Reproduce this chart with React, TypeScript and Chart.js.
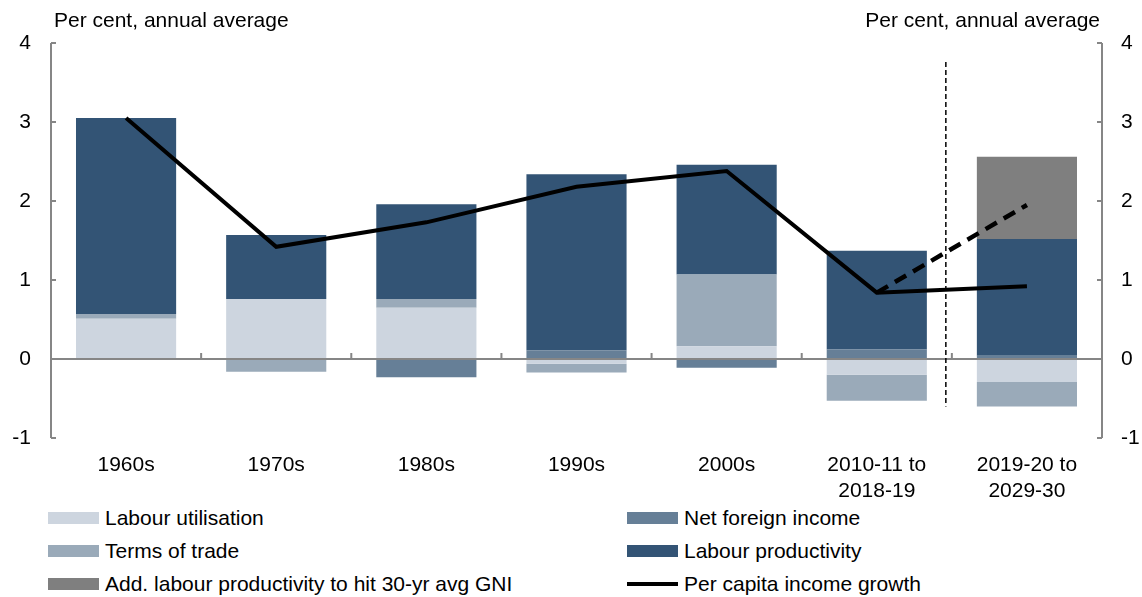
import React, { useEffect, useRef } from "react";
import { Chart, registerables } from "chart.js";

Chart.register(...registerables);

const categories: string[][] = [
  ["1960s"],
  ["1970s"],
  ["1980s"],
  ["1990s"],
  ["2000s"],
  ["2010-11 to", "2018-19"],
  ["2019-20 to", "2029-30"],
];
const labourUtilisation = [0.51, 0.76, 0.65, -0.06, 0.16, -0.2, -0.29];
const termsOfTrade = [0.06, -0.16, 0.11, -0.11, 0.91, -0.33, -0.31];
const netForeignIncome = [0, 0, -0.23, 0.11, -0.11, 0.12, 0.04];
const labourProductivity = [2.48, 0.81, 1.2, 2.23, 1.39, 1.25, 1.48];
const addLabourProductivity = [null, null, null, null, null, null, 1.04];
const perCapitaIncome = [3.05, 1.42, 1.73, 2.18, 2.38, 0.84, 0.92];
const perCapitaTarget = [null, null, null, null, null, 0.84, 1.95];
const yTickValues = [-1, 0, 1, 2, 3, 4];
const forecastDivider = 5.46; // category-scale position of the dashed divider
const dividerRange = [3.76, -0.6];

const axisTitle = "Per cent, annual average";

const COLORS = {
  lu: "#CDD5DF",
  tot: "#9AAAB9",
  nfi: "#667F97",
  lp: "#335475",
  add: "#7F7F7F",
  axis: "#868686",
};

const FONT = "'Liberation Sans', Arial, sans-serif";

const legendItems = [
  { label: "Labour utilisation", color: COLORS.lu, kind: "box" },
  { label: "Net foreign income", color: COLORS.nfi, kind: "box" },
  { label: "Terms of trade", color: COLORS.tot, kind: "box" },
  { label: "Labour productivity", color: COLORS.lp, kind: "box" },
  { label: "Add. labour productivity to hit 30-yr avg GNI", color: COLORS.add, kind: "box" },
  { label: "Per capita income growth", color: "#000000", kind: "line" },
];

const axesPlugin = {
  id: "customAxes",
  afterDatasetsDraw(chart: any) {
    const { ctx, chartArea, scales } = chart;
    const y = scales.y;
    const x = scales.x;
    ctx.save();
    ctx.strokeStyle = COLORS.axis;
    ctx.lineWidth = 2;
    // vertical axes
    ctx.beginPath();
    ctx.moveTo(chartArea.left, chartArea.top);
    ctx.lineTo(chartArea.left, chartArea.bottom);
    ctx.moveTo(chartArea.right, chartArea.top);
    ctx.lineTo(chartArea.right, chartArea.bottom);
    ctx.stroke();
    // inner ticks
    ctx.beginPath();
    yTickValues.forEach((v) => {
      const py = y.getPixelForValue(v);
      ctx.moveTo(chartArea.left, py);
      ctx.lineTo(chartArea.left + 5, py);
      ctx.moveTo(chartArea.right, py);
      ctx.lineTo(chartArea.right - 5, py);
    });
    ctx.stroke();
    // zero line
    const zy = y.getPixelForValue(0);
    ctx.beginPath();
    ctx.moveTo(chartArea.left, zy);
    ctx.lineTo(chartArea.right, zy);
    ctx.stroke();
    // category boundary ticks
    ctx.beginPath();
    for (let i = 0; i < categories.length - 1; i++) {
      const px = x.getPixelForValue(i + 0.5);
      ctx.moveTo(px, zy);
      ctx.lineTo(px, zy - 6);
    }
    ctx.stroke();
    // forecast divider
    const dx = x.getPixelForValue(forecastDivider);
    ctx.strokeStyle = "#000000";
    ctx.lineWidth = 1.5;
    ctx.setLineDash([5, 3]);
    ctx.beginPath();
    ctx.moveTo(dx, y.getPixelForValue(dividerRange[0]));
    ctx.lineTo(dx, y.getPixelForValue(dividerRange[1]));
    ctx.stroke();
    ctx.restore();
  },
};

export default function App() {
  const canvasRef = useRef<HTMLCanvasElement | null>(null);

  useEffect(() => {
    if (!canvasRef.current) return;
    const barBase = {
      type: "bar" as const,
      stack: "bars",
      order: 2,
      barPercentage: 1,
      categoryPercentage: 0.667,
      borderWidth: 0,
    };
    const chart = new Chart(canvasRef.current, {
      type: "bar",
      data: {
        labels: categories,
        datasets: [
          { ...barBase, label: "Labour utilisation", data: labourUtilisation, backgroundColor: COLORS.lu },
          { ...barBase, label: "Terms of trade", data: termsOfTrade, backgroundColor: COLORS.tot },
          { ...barBase, label: "Net foreign income", data: netForeignIncome, backgroundColor: COLORS.nfi },
          { ...barBase, label: "Labour productivity", data: labourProductivity, backgroundColor: COLORS.lp },
          { ...barBase, label: "Add. labour productivity to hit 30-yr avg GNI", data: addLabourProductivity as any, backgroundColor: COLORS.add },
          {
            type: "line" as const,
            label: "Per capita income growth",
            data: perCapitaIncome,
            stack: "line1",
            order: 1,
            borderColor: "#000000",
            borderWidth: 4,
            pointRadius: 0,
            tension: 0,
            fill: false,
          } as any,
          {
            type: "line" as const,
            label: "Target",
            data: perCapitaTarget as any,
            stack: "line2",
            order: 1,
            borderColor: "#000000",
            borderWidth: 4.5,
            borderDash: [13, 8],
            pointRadius: 0,
            tension: 0,
            fill: false,
          } as any,
        ],
      },
      options: {
        animation: false,
        responsive: false,
        maintainAspectRatio: false,
        layout: { padding: { top: 43, left: 0, right: 0, bottom: 0 } },
        plugins: {
          legend: { display: false },
          tooltip: { enabled: false },
          title: { display: false },
        },
        scales: {
          x: {
            stacked: true,
            offset: true,
            grid: { display: false, drawTicks: false },
            border: { display: false },
            ticks: {
              color: "#000000",
              font: { family: FONT, size: 21 },
              padding: 15,
              maxRotation: 0,
              autoSkip: false,
            },
            afterFit(scale: any) {
              scale.height = 62;
            },
          },
          y: {
            stacked: true,
            position: "left",
            min: -1,
            max: 4,
            grid: { display: false, drawTicks: false },
            border: { display: false },
            ticks: {
              stepSize: 1,
              color: "#000000",
              font: { family: FONT, size: 21 },
              padding: 20,
            },
            afterFit(scale: any) {
              scale.width = 51;
            },
          },
          y2: {
            position: "right",
            min: -1,
            max: 4,
            grid: { display: false, drawTicks: false },
            border: { display: false },
            ticks: {
              stepSize: 1,
              color: "#000000",
              font: { family: FONT, size: 21 },
              padding: 19,
            },
            afterFit(scale: any) {
              scale.width = 40;
            },
          },
        },
      },
      plugins: [axesPlugin],
    });
    return () => chart.destroy();
  }, []);

  const textStyle: React.CSSProperties = {
    fontFamily: FONT,
    fontSize: 21,
    color: "#000000",
    whiteSpace: "nowrap",
    lineHeight: "24px",
  };

  return (
    <div style={{ position: "absolute", left: 0, top: 0, width: 1142, height: 597, background: "#ffffff", overflow: "hidden" }}>
      <canvas ref={canvasRef} width={1142} height={500} style={{ position: "absolute", left: 0, top: 0, width: 1142, height: 500 }} />
      <div style={{ ...textStyle, position: "absolute", left: 54, top: 8 }}>{axisTitle}</div>
      <div style={{ ...textStyle, position: "absolute", right: 42, top: 8 }}>{axisTitle}</div>
      {legendItems.map((item, i) => {
        const col = i % 2;
        const row = Math.floor(i / 2);
        const left = col === 0 ? 48 : 627;
        const cy = 518 + row * 33;
        return (
          <div key={item.label} style={{ position: "absolute", left, top: cy - 12, height: 24, display: "flex", alignItems: "center" }}>
            {item.kind === "box" ? (
              <div style={{ width: 51, height: 12, background: item.color }} />
            ) : (
              <div style={{ width: 51, height: 12, display: "flex", alignItems: "center" }}>
                <div style={{ width: 51, height: 4, background: item.color }} />
              </div>
            )}
            <span style={{ ...textStyle, marginLeft: 6 }}>{item.label}</span>
          </div>
        );
      })}
    </div>
  );
}
